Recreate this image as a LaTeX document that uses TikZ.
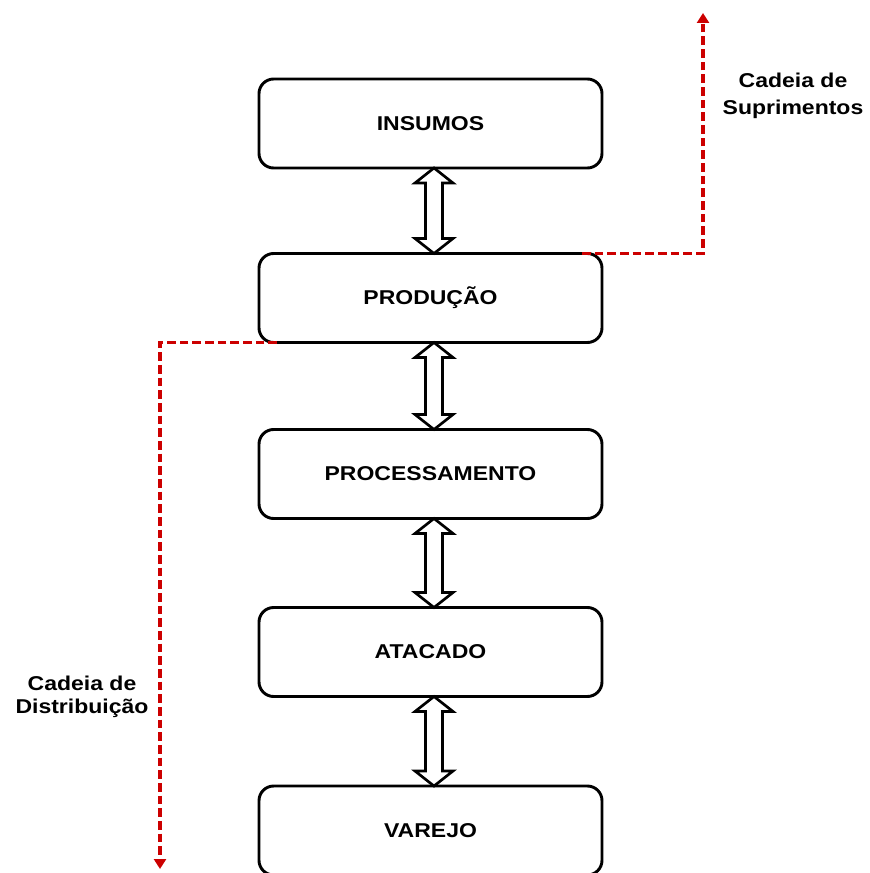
\documentclass[tikz,border=0pt]{standalone}
\usepackage{fontspec}
\setmainfont{Liberation Sans}[FakeStretch=1.15]
\usetikzlibrary{calc,arrows.meta}
\definecolor{chainred}{HTML}{CC0000}
\begin{document}
\begin{tikzpicture}[x=0.75pt,y=-0.75pt,
  stagebox/.style={draw=black, line width=2.2pt, rounded corners=11pt,
    minimum width=257.25pt, minimum height=66.75pt, outer sep=0pt,
    inner sep=0pt, font=\bfseries\fontsize{15pt}{18pt}\selectfont, fill=white},
  chainline/.style={draw=chainred, line width=2.3pt, dash pattern=on 6.5pt off 3pt,
    -{Triangle[width=9pt,length=7.5pt]}},
  sidelabel/.style={align=center, font=\bfseries\fontsize{15pt}{19pt}\selectfont, inner sep=0pt},
  flexarrow/.style={draw=black, line width=2pt, fill=white, line join=miter}]
\useasboundingbox (0,0) rectangle (869,873);

\node[stagebox] (ins) at (430.5,123.5) {INSUMOS};
\node[stagebox] (pro) at (430.5,298) {PRODUÇÃO};
\node[stagebox] (prc) at (430.5,474) {PROCESSAMENTO};
\node[stagebox] (ata) at (430.5,652) {ATACADO};
\node[stagebox] (var) at (430.5,830.5) {VAREJO};

\newcommand{\flexconnect}[2]{%
  \path[flexarrow] let \p1=($(#1.south)+(3.5,0)$), \p2=($(#2.north)+(3.5,0)$) in
    (\x1,\y1) -- (\x1+14.25pt,\y1-11.25pt) -- (\x1+6.4pt,\y1-11.25pt)
    -- (\x1+6.4pt,\y2+11.25pt) -- (\x1+14.25pt,\y2+11.25pt) -- (\x1,\y2)
    -- (\x1-14.25pt,\y2+11.25pt) -- (\x1-6.4pt,\y2+11.25pt)
    -- (\x1-6.4pt,\y1-11.25pt) -- (\x1-14.25pt,\y1-11.25pt) -- cycle;}
\flexconnect{ins}{pro}
\flexconnect{pro}{prc}
\flexconnect{prc}{ata}
\flexconnect{ata}{var}

\coordinate (supEnd) at (703,13);
\coordinate (disEnd) at (160,869);
\draw[chainline] ($(pro.north east)+(-20,0)$) -| (supEnd);
\draw[chainline] ($(pro.south west)+(18,0)$) -| (disEnd);

\node[sidelabel, font=\bfseries\fontsize{15pt}{20.25pt}\selectfont] (suplabel) at (793,96) {Cadeia de\\Suprimentos};
\node[sidelabel, font=\bfseries\fontsize{15pt}{17.25pt}\selectfont] (dislabel) at (82,697) {Cadeia de\\Distribuição};
\end{tikzpicture}
\end{document}
